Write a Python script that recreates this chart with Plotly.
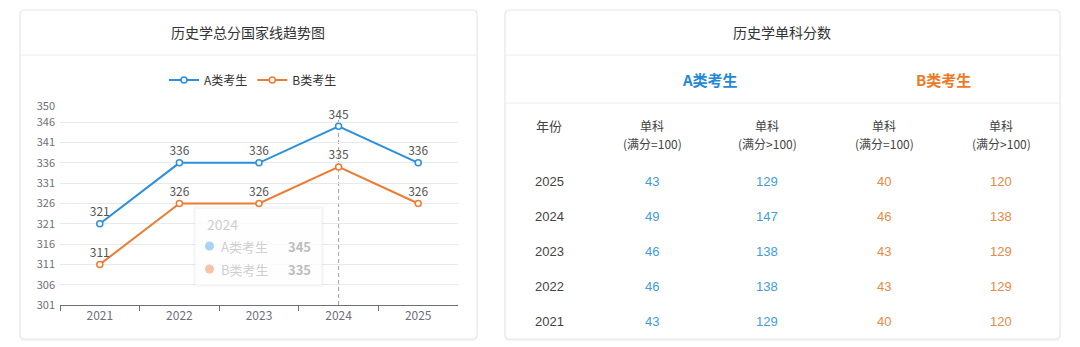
import plotly.graph_objects as go

W, H = 1080, 347

# ---- line chart data ----
years = ["2021", "2022", "2023", "2024", "2025"]
score_a = [321, 336, 336, 345, 336]
score_b = [311, 326, 326, 335, 326]
series_names = ["A类考生", "B类考生"]
y_ticks = [301, 306, 311, 316, 321, 326, 331, 336, 341, 346, 350]
hover_year = "2024"

# ---- single-subject table data ----
table_years = ["2025", "2024", "2023", "2022", "2021"]
a_single_100 = [43, 49, 46, 46, 43]
a_single_over = [129, 147, 138, 138, 129]
b_single_100 = [40, 46, 43, 43, 40]
b_single_over = [120, 138, 129, 129, 120]
col_top = ["单科", "单科", "单科", "单科"]
col_sub = ["(满分=100)", "(满分>100)", "(满分=100)", "(满分>100)"]

BLUE = "#2b8fdd"
ORANGE = "#ee7b30"
BLUE_TXT = "#3f9ddc"
ORANGE_TXT = "#e98a44"
CJK = "Noto Sans CJK SC"
LAT = "Liberation Sans, Noto Sans CJK SC"


def px(x):
    return x / W


def py(y):
    return 1 - y / H


def card_path(x0, y0, x1, y1, r):
    L, R, T, B = px(x0), px(x1), py(y0), py(y1)
    rx, ry = r / W, r / H
    return (f"M {L+rx},{T} L {R-rx},{T} Q {R},{T} {R},{T-ry} "
            f"L {R},{B+ry} Q {R},{B} {R-rx},{B} L {L+rx},{B} "
            f"Q {L},{B} {L},{B+ry} L {L},{T-ry} Q {L},{T} {L+rx},{T} Z")


fig = go.Figure()

for name, vals, col in [(series_names[0], score_a, BLUE), (series_names[1], score_b, ORANGE)]:
    fig.add_trace(go.Scatter(
        x=years, y=vals, name=name, mode="lines+markers+text",
        text=[str(v) for v in vals], textposition="top center",
        textfont=dict(family=CJK, size=12, color="#555"),
        line=dict(color=col, width=2),
        marker=dict(symbol="circle", size=6, color="white", line=dict(color=col, width=1.5)),
        cliponaxis=False, hoverinfo="skip",
    ))

shapes = []
# cards with soft shadow
for (x0, y0, x1, y1) in [(20, 10, 477, 339), (505, 10, 1060, 339)]:
    shapes.append(dict(type="path", xref="paper", yref="paper", layer="below",
                       path=card_path(x0 - 1, y0, x1 + 1, y1 + 2, 5),
                       fillcolor="rgba(0,0,0,0.04)", line=dict(width=0)))
    shapes.append(dict(type="path", xref="paper", yref="paper", layer="below",
                       path=card_path(x0, y0, x1, y1, 4),
                       fillcolor="white", line=dict(color="#e6e6e6", width=1)))
# separators
for (x0, x1, y) in [(20, 477, 55), (505, 1060, 55), (505, 1060, 103)]:
    shapes.append(dict(type="line", xref="paper", yref="paper", layer="below",
                       x0=px(x0), x1=px(x1), y0=py(y), y1=py(y),
                       line=dict(color="#ececec", width=1)))

# axis pointer on the hovered year (stops just under the value label)
hi = years.index(hover_year)
shapes.append(dict(type="line", xref="x", yref="y domain", x0=hi, x1=hi, y0=0, y1=0.93,
                   line=dict(color="#a0a0a0", width=1, dash="4px,3px"), layer="below"))

# faded tooltip box
shapes.append(dict(type="rect", xref="paper", yref="paper", layer="above",
                   x0=px(193), x1=px(324), y0=py(287), y1=py(206),
                   fillcolor="rgba(0,0,0,0.025)", line=dict(width=0)))
shapes.append(dict(type="rect", xref="paper", yref="paper", layer="above",
                   x0=px(195), x1=px(322), y0=py(285), y1=py(208),
                   fillcolor="rgba(255,255,255,0.82)", line=dict(color="rgba(235,235,235,0.6)", width=1)))
for yc, c in [(246, "#a9d2f3"), (269, "#f6c4a6")]:
    shapes.append(dict(type="circle", xref="paper", yref="paper", layer="above",
                       x0=px(205), x1=px(214), y0=py(yc + 4.5), y1=py(yc - 4.5),
                       fillcolor=c, line=dict(width=0)))

ann = []


def text(x, y, s, size=12, color="#333", family=CJK, xanchor="center", bold=False):
    if bold:
        s = f"<b>{s}</b>"
    ann.append(dict(x=px(x), y=py(y), xref="paper", yref="paper", text=s, showarrow=False,
                    xanchor=xanchor, yanchor="middle",
                    font=dict(size=size, color=color, family=family)))


text(248, 32, "历史学总分国家线趋势图", size=14, color="#333")
text(782, 32, "历史学单科分数", size=14, color="#333")

# tooltip contents
text(205, 224, hover_year, size=14, color="#cfcfcf", xanchor="left")
text(219, 246, series_names[0], size=13, color="#cfcfcf", xanchor="left")
text(219, 269, series_names[1], size=13, color="#cfcfcf", xanchor="left")
text(313, 246, str(score_a[hi]), size=13, color="#bdbdbd", xanchor="right", bold=True)
text(313, 269, str(score_b[hi]), size=13, color="#bdbdbd", xanchor="right", bold=True)

# table headers
col_x = [652, 767, 884, 1001]
text(710, 79, series_names[0], size=15, color="#2389d6", bold=True)
text(943, 79, series_names[1], size=15, color="#ee7a26", bold=True)
text(549, 125, "年份", size=13, color="#444")
for cx, t, s in zip(col_x, col_top, col_sub):
    text(cx, 125, t, size=12, color="#444")
    text(cx, 144, s, size=12, color="#444")

# table rows
row_y = [181, 216, 251, 286, 321]
for ry, yr, a1, a2, b1, b2 in zip(row_y, table_years, a_single_100, a_single_over,
                                  b_single_100, b_single_over):
    text(549, ry, yr, size=13, color="#444", family=LAT)
    text(col_x[0], ry, str(a1), size=13, color=BLUE_TXT, family=LAT)
    text(col_x[1], ry, str(a2), size=13, color=BLUE_TXT, family=LAT)
    text(col_x[2], ry, str(b1), size=13, color=ORANGE_TXT, family=LAT)
    text(col_x[3], ry, str(b2), size=13, color=ORANGE_TXT, family=LAT)

fig.update_layout(
    width=W, height=H, margin=dict(l=0, r=0, t=0, b=0, pad=0, autoexpand=False),
    paper_bgcolor="#ffffff", plot_bgcolor="rgba(0,0,0,0)",
    font=dict(family=CJK),
    shapes=shapes, annotations=ann,
    showlegend=True,
    legend=dict(orientation="h", x=px(253), y=py(80), xanchor="center", yanchor="middle",
                font=dict(size=12, color="#333", family=CJK), bgcolor="rgba(0,0,0,0)",
                itemwidth=30, tracegroupgap=0),
    xaxis=dict(domain=[px(60), px(458)], type="category", range=[-0.5, 4.5],
               tickson="boundaries", ticks="outside", ticklen=5, tickcolor="#6e7079",
               showline=True, linecolor="#6e7079", linewidth=1, showgrid=False,
               automargin=False,
               tickfont=dict(size=12, color="#6e7079", family=CJK), fixedrange=True),
    yaxis=dict(domain=[py(305), py(106)], range=[301, 350], tickvals=y_ticks,
               showgrid=True, gridcolor="#e6e9f0", gridwidth=1, zeroline=False,
               showline=False, ticks="", ticklabelstandoff=4, automargin=False,
               tickfont=dict(size=11, color="#6e7079", family=CJK), fixedrange=True),
)

fig.write_html("out.html")
